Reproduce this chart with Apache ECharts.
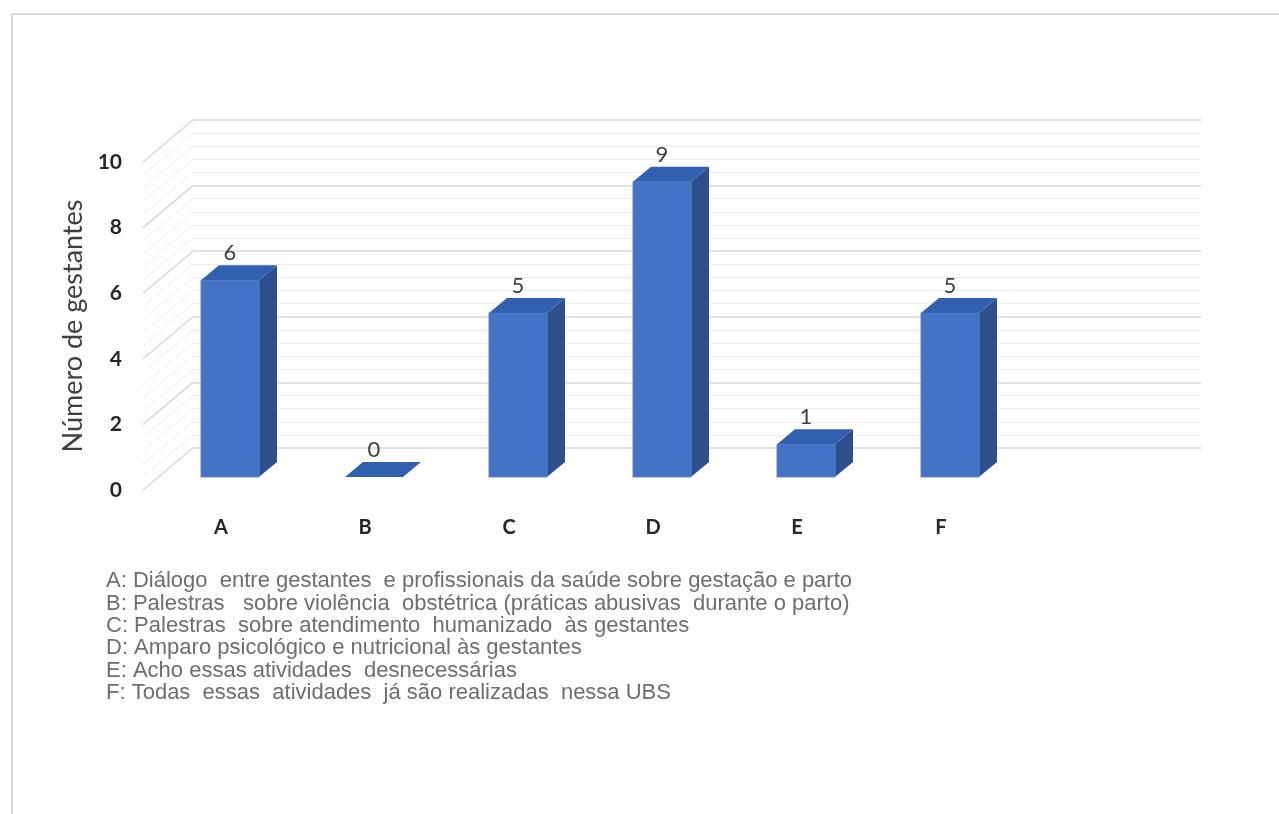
<!DOCTYPE html>
<html>
<head>
<meta charset="utf-8">
<script src="https://cdn.jsdelivr.net/npm/echarts@6/dist/echarts.min.js"></script>
<style>
  html, body { margin: 0; padding: 0; background: #fff; }
  #chart { width: 1279px; height: 814px; }
</style>
</head>
<body>
<div id="chart"></div>
<script>
// data
const categories = ['A', 'B', 'C', 'D', 'E', 'F'];
const values = [6, 0, 5, 9, 1, 5];
const yTicks = [0, 2, 4, 6, 8, 10];
const legendLines = [
  'A: Diálogo  entre gestantes  e profissionais da saúde sobre gestação e parto',
  'B: Palestras   sobre violência  obstétrica (práticas abusivas  durante o parto)',
  'C: Palestras  sobre atendimento  humanizado  às gestantes',
  'D: Amparo psicológico e nutricional às gestantes',
  'E: Acho essas atividades  desnecessárias',
  'F: Todas  essas  atividades  já são realizadas  nessa UBS'
];

// 3d look
const WALL = [-50, 42];   // depth of the floor / side wall
const FRONT = [-35, 29];  // bar front face, from back wall
const DEPTH = [18, -15];  // bar depth
const BAR_W = 58;
const C_FRONT = '#4472C4';
const C_SIDE = '#2d4f8e';
const C_TOP = '#3260b0';
const C_MAJOR = '#d9d9d9';
const C_MINOR = '#eeeeee';

const renderBar = (params, api) => {
  const i = api.value(0);
  const v = api.value(1);
  const base = api.coord([i, 0]);
  const top = api.coord([i, v]);
  const x0 = base[0] + FRONT[0] - BAR_W / 2;
  const x1 = x0 + BAR_W;
  const yb = base[1] + FRONT[1];
  const yt = top[1] + FRONT[1];
  const dx = DEPTH[0], dy = DEPTH[1];
  const children = [];
  if (yb - yt > 0.5) {
    children.push({
      type: 'polygon',
      shape: { points: [[x1, yb], [x1, yt], [x1 + dx, yt + dy], [x1 + dx, yb + dy]] },
      style: { fill: C_SIDE }
    });
    children.push({
      type: 'rect',
      shape: { x: x0, y: yt, width: BAR_W, height: yb - yt },
      style: { fill: C_FRONT, stroke: '#5b86d0', lineWidth: 1 }
    });
  }
  children.push({
    type: 'polygon',
    shape: { points: [[x0, yt], [x1, yt], [x1 + dx, yt + dy], [x0 + dx, yt + dy]] },
    style: { fill: C_TOP }
  });
  children.push({
    type: 'text',
    style: {
      text: String(v),
      x: (x0 + x1) / 2,
      y: yt - 16,
      align: 'center',
      verticalAlign: 'bottom',
      fill: '#404040',
      fontSize: 22,
      fontFamily: 'Lato'
    }
  });
  return { type: 'group', children: children };
};

// diagonal lines of the left wall
const renderWall = (params, api) => {
  const half = api.size([1, 0])[0] / 2;
  const lines = [];
  for (let k = 0; k < yTicks.length; k++) {
    const last = k === yTicks.length - 1;
    const steps = last ? 1 : 5;
    for (let s = 0; s < steps; s++) {
      const v = last ? yTicks[k] : yTicks[k] + (yTicks[k + 1] - yTicks[k]) * s / 5;
      const p = api.coord([0, v]);
      const x = p[0] - half;
      lines.push({
        type: 'line',
        shape: { x1: x, y1: p[1], x2: x + WALL[0], y2: p[1] + WALL[1] },
        style: { stroke: s === 0 ? C_MAJOR : C_MINOR, lineWidth: s === 0 ? 1.5 : 1 }
      });
    }
  }
  return { type: 'group', children: lines };
};

const slots = categories.concat(['']);

const option = {
  backgroundColor: '#fff',
  animation: false,
  grid: [
    { left: 193, top: 120, width: 1008, height: 328 },
    { left: 149, top: 162, width: 1008, height: 328 }
  ],
  xAxis: [
    {
      type: 'category', gridIndex: 0, data: slots,
      axisLine: { show: false }, axisTick: { show: false }, axisLabel: { show: false }
    },
    {
      type: 'category', gridIndex: 1, data: slots,
      axisLine: { show: false }, axisTick: { show: false },
      axisLabel: { margin: 28, color: '#262626', fontSize: 20, fontWeight: 'bold', fontFamily: 'Lato' }
    }
  ],
  yAxis: [
    {
      type: 'value', gridIndex: 0, min: 0, max: 10, interval: 2,
      axisLine: { show: false }, axisTick: { show: false }, axisLabel: { show: false },
      splitLine: { lineStyle: { color: C_MAJOR, width: 1.5 } },
      minorTick: { show: false, splitNumber: 5 },
      minorSplitLine: { show: true, lineStyle: { color: C_MINOR, width: 1 } }
    },
    {
      type: 'value', gridIndex: 1, min: 0, max: 10, interval: 2,
      axisLine: { show: false }, axisTick: { show: false }, splitLine: { show: false },
      axisLabel: { margin: 27, color: '#262626', fontSize: 21, fontWeight: 'bold', fontFamily: 'Lato' },
      name: 'Número de gestantes',
      nameLocation: 'middle',
      nameRotate: 90,
      nameGap: 60,
      nameTextStyle: { color: '#404040', fontSize: 27, fontFamily: 'Lato' }
    }
  ],
  series: [
    {
      type: 'custom', xAxisIndex: 0, yAxisIndex: 0, clip: false, silent: true,
      renderItem: renderWall, data: [[0, 0]], z: 1
    },
    {
      type: 'custom', xAxisIndex: 0, yAxisIndex: 0, clip: false,
      renderItem: renderBar,
      data: values.map((v, i) => [i, v]),
      z: 5
    }
  ],
  graphic: [
    { type: 'line', shape: { x1: 12, y1: 14, x2: 1279, y2: 14 }, style: { stroke: '#d9d9d9', lineWidth: 2 } },
    { type: 'line', shape: { x1: 12, y1: 14, x2: 12, y2: 814 }, style: { stroke: '#d9d9d9', lineWidth: 2 } },
    {
      type: 'text', left: 106, top: 570,
      style: {
        text: legendLines.join('\n'),
        fill: '#6e6e6e',
        fontSize: 22,
        lineHeight: 22.4,
        fontFamily: 'Liberation Sans'
      }
    }
  ]
};

const chart = echarts.init(document.getElementById('chart'));
chart.setOption(option);
</script>
</body>
</html>
